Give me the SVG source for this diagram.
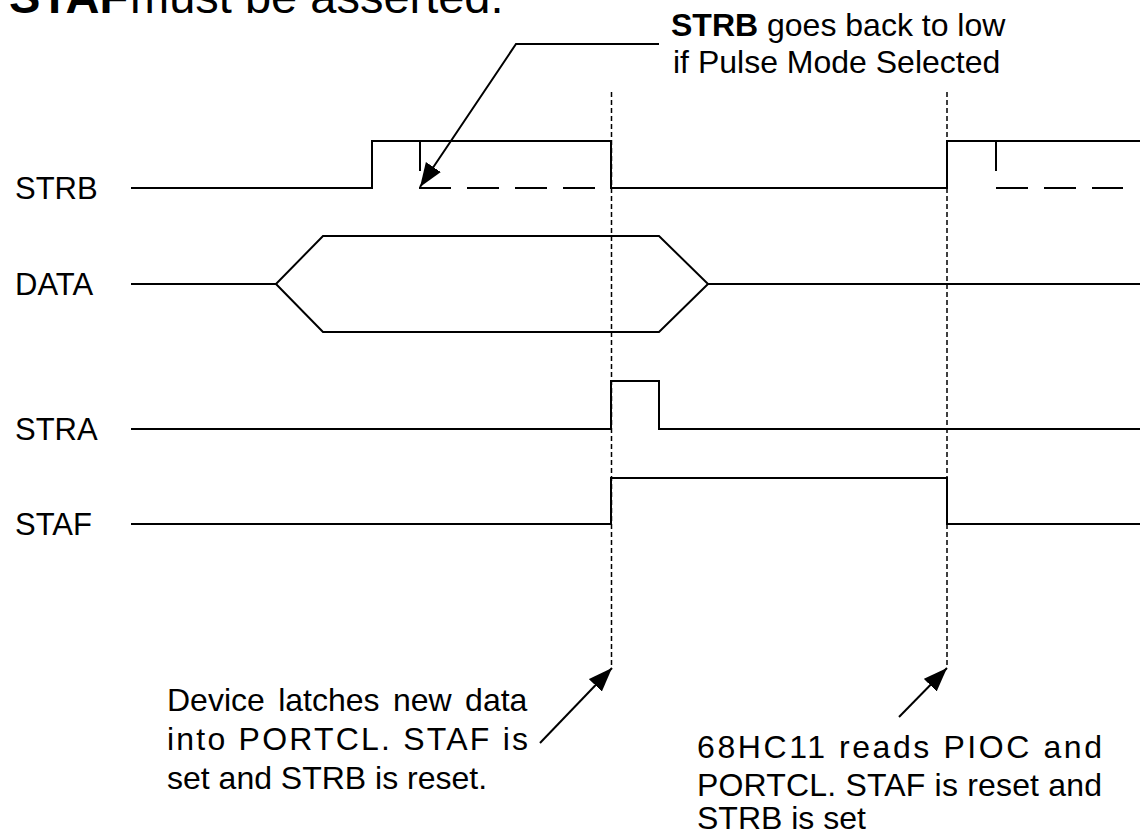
<svg xmlns="http://www.w3.org/2000/svg" width="1148" height="834" viewBox="0 0 1148 834">
<style>
text{font-family:"Liberation Sans",Arial,sans-serif;fill:#000}
.lbl{font-size:31px}
.txt{font-size:32px}
.sig{fill:none;stroke:#000;stroke-width:2}
.dash{fill:none;stroke:#000;stroke-width:2;stroke-dasharray:32 16}
.guide{fill:none;stroke:#000;stroke-width:1.5;stroke-dasharray:5 3}
.arr{fill:none;stroke:#000;stroke-width:2;marker-end:url(#ah)}
</style>
<defs>
<marker id="ah" markerUnits="userSpaceOnUse" markerWidth="26" markerHeight="20" refX="24" refY="9" orient="auto">
<path d="M0,0 L24,9 L0,18 Z" fill="#000"/>
</marker>
</defs>
<rect width="1148" height="834" fill="#fff"/>
<g id="title">
<text x="9" y="13" font-size="47" font-weight="bold">STAF</text>
<text x="130" y="13" font-size="47">must be asserted.</text>
</g>
<g id="label-strb"><text class="lbl" x="15" y="199">STRB</text></g>
<g id="label-data"><text class="lbl" x="15" y="295">DATA</text></g>
<g id="label-stra"><text class="lbl" x="15" y="440">STRA</text></g>
<g id="label-staf"><text class="lbl" x="15" y="535">STAF</text></g>
<g id="signal-strb">
<path class="sig" d="M131,188 H372 V141 H611 V188 H947 V141 H1140"/>
<path class="sig" d="M420,141 V171 M996,141 V171"/>
<path class="dash" d="M419,188 H611 M996,188 H1123"/>
</g>
<g id="signal-data">
<path class="sig" d="M131,284 H276 L323,236 H659 L708,284 H1140 M276,284 L323,332 H659 L708,284"/>
</g>
<g id="signal-stra"><path class="sig" d="M131,429 H611 V381 H659 V429 H1140"/></g>
<g id="signal-staf"><path class="sig" d="M131,524 H611 V478 H947 V524 H1140"/></g>
<g id="note-pulse">
<text class="txt" x="671" y="36"><tspan font-weight="bold">STRB</tspan> goes back to low</text>
<text class="txt" x="673" y="73">if Pulse Mode Selected</text>
</g>
<g id="note-latch">
<text class="txt" x="167" y="711" word-spacing="4.5">Device latches new data</text>
<text class="txt" x="167" y="750" textLength="361" lengthAdjust="spacing">into PORTCL. STAF is</text>
<text class="txt" x="167" y="789">set and STRB is reset.</text>
</g>
<g id="note-read">
<text class="txt" x="697" y="758" textLength="405" lengthAdjust="spacing">68HC11 reads PIOC and</text>
<text class="txt" x="697" y="796" textLength="405" lengthAdjust="spacing">PORTCL. STAF is reset and</text>
<text class="txt" x="697" y="829">STRB is set</text>
</g>
<g id="connectors">
<path class="guide" d="M611.5,92 V666 M947,92 V666"/>
<path class="arr" d="M659,44 H516 L420,187"/>
<path class="arr" d="M540,743 L612,668"/>
<path class="arr" d="M899,717 L947,668"/>
</g>
</svg>
